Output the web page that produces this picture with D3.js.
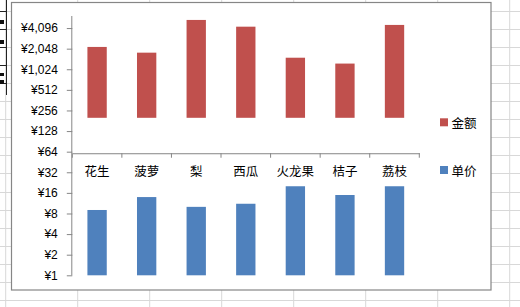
<!DOCTYPE html>
<html><head><meta charset="utf-8">
<script src="https://cdn.jsdelivr.net/npm/d3@7"></script>
<style>html,body{margin:0;padding:0;background:#fff;}svg{display:block;}</style>
</head><body>
<svg id="c" width="520" height="307"></svg>
<script>
const categories = ["花生","菠萝","梨","西瓜","火龙果","桔子","荔枝"];
const amountValues = [2170, 1790, 5380, 4290, 1510, 1240, 4550]; // 金额
const priceValues  = [9, 13.9, 10, 11.1, 20, 14.9, 20];           // 单价
const amountBase = 200;
const priceBase = 1;
const axisCross = 60.7;
const axisMax = 6144;
const tickValues = [1,2,4,8,16,32,64,128,256,512,1024,2048,4096];
const seriesNames = ["金额","单价"];
const colors = ["#C0504D","#4F81BD"];

const svg = d3.select("#c");
const W = 520, H = 307;

// spreadsheet background grid
const bg = svg.append("g");
d3.range(5.7, W, 72).forEach(x => bg.append("line").attr("x1",x).attr("x2",x).attr("y1",0).attr("y2",H).attr("stroke","#d8d8d8"));
d3.range(11, H, 18.05).forEach(y => bg.append("line").attr("x1",0).attr("x2",W).attr("y1",Math.round(y)+0.5).attr("y2",Math.round(y)+0.5).attr("stroke","#d8d8d8"));
// left table edge fragments
bg.append("line").attr("x1",6.5).attr("x2",6.5).attr("y1",0).attr("y2",95).attr("stroke","#222");
[11,29,47,65,83].forEach(y => bg.append("line").attr("x1",0).attr("x2",7).attr("y1",y+0.5).attr("y2",y+0.5).attr("stroke","#222"));
[[20,4],[40,4],[73,3],[80,4]].forEach(([y,h]) => bg.append("rect").attr("x",0).attr("y",y).attr("width",4).attr("height",h).attr("fill","#111"));

// chart area
svg.append("rect").attr("x",11.5).attr("y",2.5).attr("width",479.5).attr("height",287.5)
  .attr("fill","#fff").attr("stroke","#868686").attr("stroke-width",1.2);

const x = d3.scaleBand().domain(categories).range([72.3, 419.3]).paddingInner(0).paddingOuter(0);
const y = d3.scaleLog().base(2).domain([1, axisMax]).range([275.3, 16]);
const barW = x.bandwidth() * 0.39;

// bars
const g = svg.append("g");
g.selectAll("rect.a").data(categories).join("rect")
  .attr("x", d => x(d) + x.bandwidth()/2 - barW/2)
  .attr("width", barW)
  .attr("y", (d,i) => y(amountValues[i]))
  .attr("height", (d,i) => y(amountBase) - y(amountValues[i]))
  .attr("fill", colors[0]);
g.selectAll("rect.p").data(categories).join("rect")
  .attr("x", d => x(d) + x.bandwidth()/2 - barW/2)
  .attr("width", barW)
  .attr("y", (d,i) => y(priceValues[i]))
  .attr("height", (d,i) => y(priceBase) - y(priceValues[i]))
  .attr("fill", colors[1]);

// y axis
const yAxis = d3.axisLeft(y).tickValues(tickValues).tickSize(5.5).tickPadding(9)
  .tickFormat(v => "¥" + d3.format(",")(v));
const ya = svg.append("g").attr("transform","translate(72.3,0)").call(yAxis);
ya.select(".domain").attr("stroke","#868686").attr("d", `M-0.5,${y(axisMax)}V${y(1)}`);
ya.selectAll(".tick line").attr("stroke","#868686");
ya.selectAll(".tick text").attr("font-family","'Liberation Sans', Arial, sans-serif").attr("font-size","12px").attr("fill","#000");

// category axis
const xAxis = d3.axisBottom(x).tickSize(0).tickPadding(0);
const xa = svg.append("g").attr("transform",`translate(0,${y(axisCross)})`).call(xAxis);
xa.select(".domain").attr("stroke","#868686");
xa.selectAll(".tick text").attr("font-family","'Noto Sans CJK SC', sans-serif").attr("font-size","12.5px")
  .attr("fill","#000").attr("dy",null).attr("y", 17.5).attr("dominant-baseline","central");
const bounds = categories.map(c => x(c)).concat([x.range()[1]]);
xa.selectAll("line.tk").data(bounds).join("line").attr("class","tk")
  .attr("x1", d => d).attr("x2", d => d).attr("y1", 0).attr("y2", 4.5).attr("stroke","#868686");

// legend
const leg = svg.append("g");
seriesNames.forEach((n,i) => {
  const ly = 122.3 + i*47.7;
  leg.append("rect").attr("x",440).attr("y",ly-4).attr("width",8).attr("height",8).attr("fill",colors[i]);
  leg.append("text").attr("x",451.5).attr("y",ly).attr("dominant-baseline","central")
    .attr("font-family","'Noto Sans CJK SC', sans-serif").attr("font-size","12.5px").text(n);
});
</script>
</body></html>
